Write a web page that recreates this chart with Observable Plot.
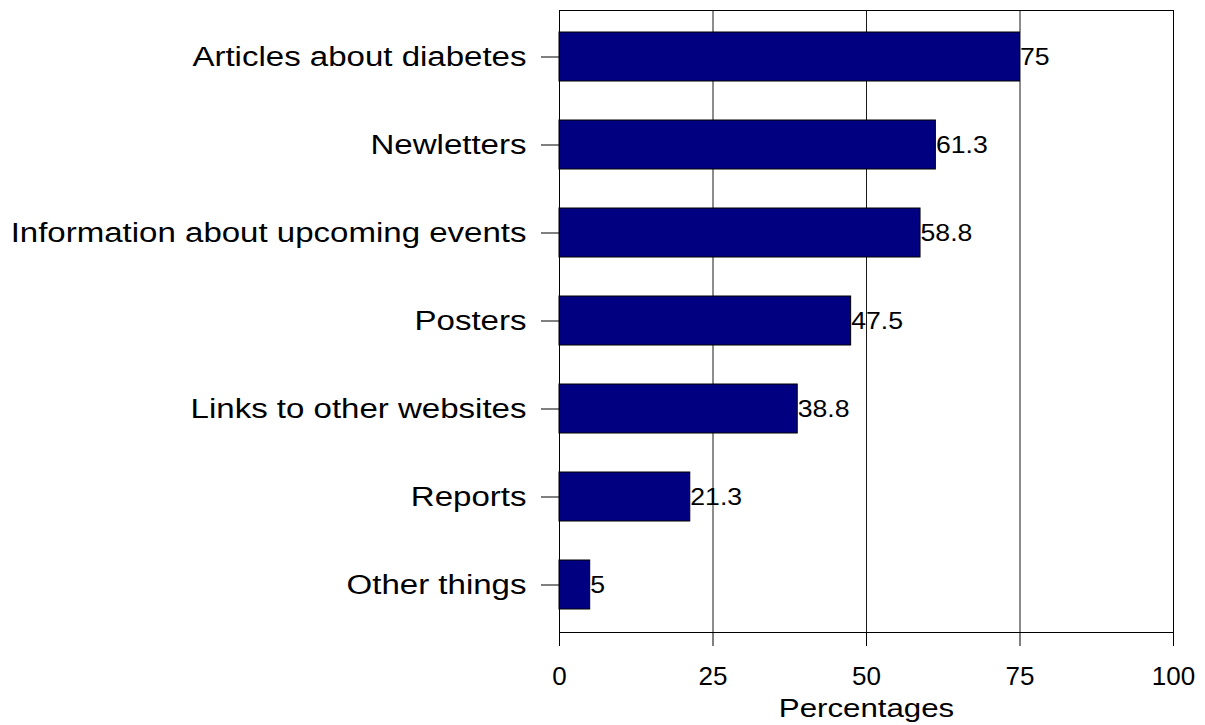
<!DOCTYPE html>
<html>
<head>
<meta charset="utf-8">
<script src="https://cdn.jsdelivr.net/npm/d3@7"></script>
<script src="https://cdn.jsdelivr.net/npm/@observablehq/plot@0.6"></script>
<style>
  html, body { margin: 0; padding: 0; background: #fff; }
</style>
</head>
<body>
<div id="chart"></div>
<script>
// Items wanted on the website, share of respondents (%)
const categories = [
  "Articles about diabetes",
  "Newletters",
  "Information about upcoming events",
  "Posters",
  "Links to other websites",
  "Reports",
  "Other things"
];
const values = [75, 61.3, 58.8, 47.5, 38.8, 21.3, 5];
const xTicks = [0, 25, 50, 75, 100];
const gridTicks = [25, 50, 75];
const xLabel = "Percentages";

const rows = categories.map((category, i) => ({ category, value: values[i] }));

const chart = Plot.plot({
  width: 1205,
  height: 725,
  marginLeft: 559,
  marginRight: 32,
  marginTop: 10,
  marginBottom: 93,
  style: {
    fontFamily: "'Liberation Sans', Arial, sans-serif",
    color: "#000",
    background: "#fff"
  },
  x: { domain: [0, 100] },
  y: { domain: categories, paddingInner: 0.44, paddingOuter: 0.22 },
  marks: [
    Plot.ruleX(gridTicks, { stroke: "#1a1a1a", strokeWidth: 1 }),
    Plot.barX(rows, { x: "value", y: "category", fill: "#000080", stroke: "#000", strokeWidth: 1 }),
    Plot.frame({ stroke: "#000" }),
    Plot.text(rows, {
      x: "value",
      y: "category",
      text: d => String(d.value),
      textAnchor: "start",
      fontSize: 24,
      fill: "#000"
    }),
    Plot.axisY({ tickSize: 18, tickPadding: 15, fontSize: 28, label: null }),
    Plot.axisX({
      ticks: xTicks,
      tickSize: 14,
      tickPadding: 20,
      fontSize: 26,
      label: xLabel,
      labelAnchor: "center",
      labelArrow: "none",
      labelOffset: 84
    })
  ]
});

// Widen the glyphs of a text group horizontally, around each label's anchor point.
function widen(svg, ariaLabel, k, size) {
  svg.querySelectorAll(`[aria-label="${ariaLabel}"] text`).forEach(t => {
    let tr = t.getAttribute("transform");
    if (!tr) {
      const x = +(t.getAttribute("x") || 0), y = +(t.getAttribute("y") || 0);
      t.removeAttribute("x");
      t.removeAttribute("y");
      tr = `translate(${x},${y})`;
    }
    t.setAttribute("transform", `${tr} scale(${k},1)`);
    if (size) t.setAttribute("font-size", size);
  });
}

widen(chart, "y-axis tick label", 1.18);
widen(chart, "text", 1.11);
widen(chart, "x-axis label", 1.25, 25);

document.getElementById("chart").append(chart);
</script>
</body>
</html>
